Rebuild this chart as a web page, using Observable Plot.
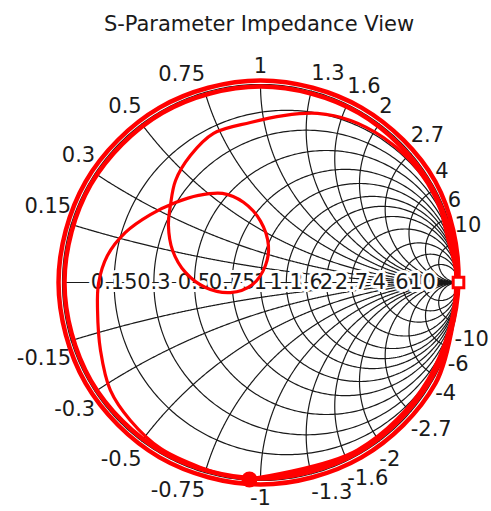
<!DOCTYPE html>
<html>
<head>
<meta charset="utf-8">
<script src="https://cdn.jsdelivr.net/npm/d3@7"></script>
<script src="https://cdn.jsdelivr.net/npm/@observablehq/plot@0.6"></script>
<style>
  body { margin: 0; background: #fff; font-family: "DejaVu Sans", sans-serif; }
  #title { box-sizing: border-box; height: 38px; padding-top: 14px; padding-left: 27px;
           font-size: 21px; line-height: 21px; text-align: center; color: #1a1a1a; white-space: nowrap; }
</style>
</head>
<body>
<div id="title">S-Parameter Impedance View</div>
<div id="chart"></div>
<script>
// Grid values (resistance circles / reactance arcs) and their tick labels
const gridValues = [0.15, 0.3, 0.5, 0.75, 1, 1.3, 1.6, 2, 2.7, 4, 6, 10];
const gridLabels = ["0.15", "0.3", "0.5", "0.75", "1", "1.3", "1.6", "2", "2.7", "4", "6", "10"];

// Trace 1: laps near the outer edge (reflection coefficient, real / imaginary)
const outerRe = [1.0, 0.883, 0.51, 0.0, -0.51, -0.883, -1.02, -0.883, -0.51, 0.0, 0.51, 0.883, 1.0,
                 0.857, 0.495, 0.0, -0.495, -0.857, -0.99, -0.857, -0.495, 0.0, 0.495, 0.857, 0.99,
                 0.849, 0.49, -0.056];
const outerIm = [0.0, -0.51, -0.883, -1.02, -0.883, -0.51, 0.0, 0.51, 0.883, 1.02, 0.883, 0.51, 0.0,
                 -0.495, -0.857, -0.99, -0.857, -0.495, 0.0, 0.495, 0.857, 0.99, 0.857, 0.495, 0.0,
                 -0.49, -0.849, -0.995];

// Trace 2: inner spiral with the small loop
const innerRe = [-0.056, -0.152, -0.303, -0.505, -0.657, -0.758, -0.808, -0.823, -0.818, -0.773, -0.682, -0.556,
                 -0.429, -0.313, -0.192, -0.086, 0.0, 0.040, 0.025, -0.040, -0.152, -0.278, -0.379, -0.444,
                 -0.465, -0.455, -0.429, -0.354, -0.237, -0.051, 0.116, 0.288, 0.455, 0.621, 0.742, 0.843,
                 0.909, 0.944, 0.975, 1.0];
const innerIm = [-0.995, -0.980, -0.934, -0.838, -0.697, -0.545, -0.343, -0.141, -0.005, 0.136, 0.253, 0.343,
                 0.404, 0.440, 0.450, 0.405, 0.310, 0.187, 0.086, -0.010, -0.051, -0.025, 0.051, 0.162,
                 0.288, 0.389, 0.515, 0.641, 0.753, 0.808, 0.843, 0.854, 0.818, 0.732, 0.631, 0.5,
                 0.364, 0.227, 0.111, 0.0];

// Markers
const markerSquare = {re: 1.0, im: 0.0};
const markerDot = {re: -0.056, im: -0.995};

// ---- build tables ----
const outer = outerRe.map((re, i) => ({re, im: outerIm[i]}));
const inner = innerRe.map((re, i) => ({re, im: innerIm[i]}));

function gamma(r, x) {
  const D = (r + 1) * (r + 1) + x * x;
  return {re: (r * r + x * x - 1) / D, im: (2 * x) / D};
}
const N = 400;
const gridPts = [];
// outer boundary (r = 0) and resistance circles
[0, ...gridValues].forEach((r, k) => {
  for (let i = 1; i < N; i++) {
    const x = Math.tan(-Math.PI / 2 + Math.PI * i / N);
    gridPts.push({...gamma(r, x), id: "r" + k});
  }
  gridPts.push({re: 1, im: 0, id: "r" + k});
});
// reactance arcs
gridValues.forEach((v, k) => {
  [v, -v].forEach((x, s) => {
    for (let i = 0; i < N; i++) {
      const r = Math.tan((Math.PI / 2) * i / N);
      gridPts.push({...gamma(r, x), id: "x" + k + "_" + s});
    }
    gridPts.push({re: 1, im: 0, id: "x" + k + "_" + s});
  });
});

const axisTicks = gridValues.map((r, i) => ({re: (r - 1) / (r + 1), im: 0, label: gridLabels[i]}));
const reactTicks = [];
gridValues.forEach((x, i) => {
  [1, -1].forEach(sgn => {
    const g = gamma(0, sgn * x);
    reactTicks.push({...g, x: sgn * x, label: (sgn < 0 ? "-" : "") + gridLabels[i]});
  });
});

const textCommon = {x: "re", y: "im", text: "label", fontSize: 21, fill: "#1a1a1a"};
const reactMark = (filter, anchor, dy) =>
  Plot.text(reactTicks.filter(filter), {...textCommon, textAnchor: anchor, dy});

const chart = Plot.plot({
  width: 491,
  height: 473,
  marginLeft: 62,
  marginRight: 33,
  marginTop: 46,
  marginBottom: 31,
  x: {domain: [-1, 1], axis: null},
  y: {domain: [-1, 1], axis: null},
  style: {fontFamily: "DejaVu Sans, sans-serif", background: "white", overflow: "visible"},
  marks: [
    Plot.line(gridPts, {x: "re", y: "im", z: "id", stroke: "#1a1a1a", strokeWidth: 1.2}),
    Plot.ruleY([0], {x1: -1, x2: 1, stroke: "#1a1a1a", strokeWidth: 1.2}),
    Plot.text(axisTicks, {...textCommon, stroke: "white", strokeWidth: 6, paintOrder: "stroke", strokeLinejoin: "round"}),
    reactMark(d => Math.abs(d.x) < 1 && d.x > 0, "end", -18),
    reactMark(d => Math.abs(d.x) < 1 && d.x < 0, "end", 18),
    reactMark(d => d.x === 1, "middle", -18),
    reactMark(d => d.x === -1, "middle", 18),
    reactMark(d => d.x > 1, "start", -18),
    reactMark(d => d.x < -1, "start", 18),
    Plot.line(outer, {x: "re", y: "im", stroke: "#ff0000", strokeWidth: 4.5, curve: "catmull-rom"}),
    Plot.line(inner, {x: "re", y: "im", stroke: "#ff0000", strokeWidth: 3.2, curve: "catmull-rom"}),
    Plot.dot([markerDot], {x: "re", y: "im", r: 8, fill: "#ff0000"}),
    Plot.dot([markerSquare], {x: "re", y: "im", symbol: "square", r: 6, stroke: "#ff0000", fill: "white", strokeWidth: 3})
  ]
});
document.getElementById("chart").appendChild(chart);
</script>
</body>
</html>
